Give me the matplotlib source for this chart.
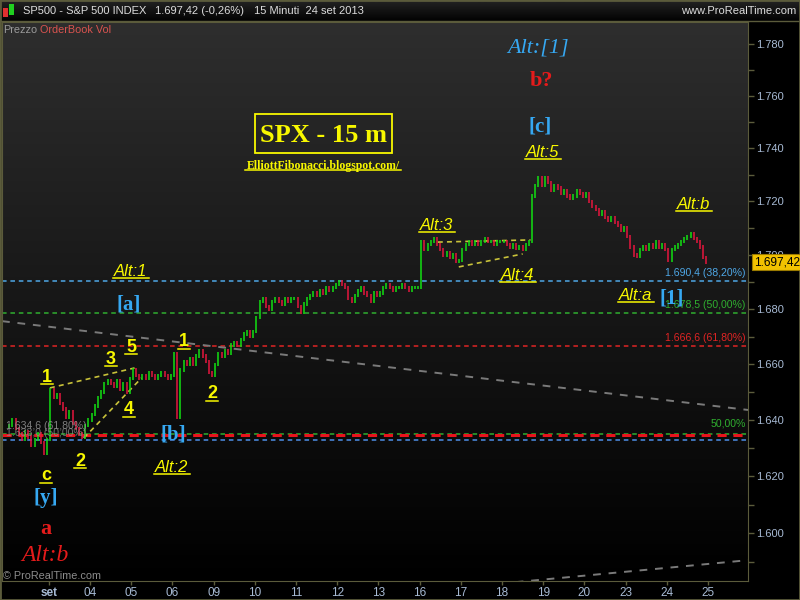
import numpy as np
import matplotlib
matplotlib.use("Agg")
import matplotlib.pyplot as plt
from matplotlib.colors import LinearSegmentedColormap
from matplotlib.lines import Line2D
from matplotlib.patches import Rectangle
from matplotlib.ticker import FixedLocator, FuncFormatter, NullFormatter
from matplotlib.transforms import blended_transform_factory

W, H = 800, 600
SANS = ["Liberation Sans", "DejaVu Sans"]
SERIF = ["Liberation Serif", "DejaVu Serif"]

# x axis: trading days counted from the 3 Sep open, one label per session
DAY_TICKS = list(range(17))
DAY_LABELS = ["set", "04", "05", "06", "09", "10", "11", "12", "13",
              "16", "17", "18", "19", "20", "23", "24", "25"]
X_RANGE = (-1.138, 16.97)
Y_RANGE = (1583.5, 1788.5)          # log price scale, as on the chart
Y_MAJOR = list(range(1600, 1781, 20))
Y_MINOR = list(range(1590, 1790, 20))

# SPX 15 min at half-hour steps (13 per session)
BARS_PER_DAY = 13
SESSION_DAYS = list(range(-1, 16))  # 30 ago .. 24 set
PREV_CLOSE = 1637.5
CLOSES = [
    [1638, 1640, 1637, 1635, 1633, 1636, 1634, 1631, 1633, 1635, 1632, 1628, 1633],    # 30 ago
    [1651, 1648, 1649, 1646, 1644, 1641, 1643, 1639, 1637, 1635, 1634, 1638, 1640],    # 03
    [1642, 1645, 1648, 1650, 1653, 1654, 1653, 1652, 1654, 1651, 1653, 1650, 1655],    # 04
    [1658, 1656, 1655, 1656, 1655, 1657, 1656, 1655, 1656, 1657, 1656, 1655, 1656],    # 05
    [1664, 1641, 1658, 1661, 1660, 1662, 1660, 1663, 1665, 1663, 1661, 1657, 1656],    # 06
    [1660, 1664, 1663, 1665, 1664, 1667, 1668, 1667, 1669, 1671, 1672, 1670, 1672],    # 09
    [1677, 1683, 1684, 1681, 1680, 1683, 1684, 1683, 1682, 1684, 1683, 1684, 1684],    # 10
    [1681, 1679, 1682, 1684, 1685, 1686, 1685, 1687, 1686, 1688, 1687, 1688, 1689],    # 11
    [1690, 1689, 1688, 1684, 1683, 1685, 1687, 1688, 1686, 1685, 1683, 1686, 1685],    # 12
    [1686, 1688, 1689, 1688, 1687, 1688, 1688, 1689, 1688, 1687, 1688, 1688, 1688],    # 13
    [1705, 1702, 1704, 1705, 1706, 1704, 1702, 1700, 1701, 1699, 1700, 1697.5, 1698],  # 16
    [1702, 1704, 1705, 1704, 1705, 1704, 1705, 1706, 1705, 1705, 1704, 1705, 1705],    # 17
    [1705, 1704, 1703, 1704, 1702.5, 1703, 1702, 1704, 1705, 1722, 1726, 1729, 1726],  # 18
    [1729, 1727, 1724, 1726, 1725, 1723, 1724, 1722, 1721, 1722, 1724, 1723, 1722],    # 19
    [1723, 1720, 1718, 1717, 1715, 1716, 1714, 1713, 1714, 1712, 1711, 1709, 1710],    # 20
    [1707, 1703, 1700, 1699.5, 1702, 1703, 1702, 1704, 1703, 1705, 1703, 1704, 1702],  # 23
    [1698, 1702, 1703, 1704, 1705, 1706, 1707, 1708, 1706, 1705, 1703, 1699, 1697.42], # 24
]
LAST_PRICE = 1697.42

# Fibonacci retracements
FIB_LEVELS = [1690.4, 1678.5, 1666.6]
FIB_TEXT = ["1.690,4 (38,20%)", "1.678,5 (50,00%)", "1.666,6 (61,80%)"]
FIB_COLORS = ["#4ea7e6", "#2fae2f", "#e02424"]
LOW_LEVELS = [1635.1, 1634.6, 1632.9]
LOW_COLORS = ["#2fae2f", "#e8141c", "#4e8fe8"]
LOW_WIDTHS = [1.1, 2.2, 1.1]

# hand-drawn lines (day, price)
TREND_X = [[-1.138, 16.97], [11.33, 16.97]]
TREND_Y = [[1675.7, 1643.6], [1583.1, 1590.7]]
WAVE_X = [[0.024, 2.08], [0.85, 2.25], [9.44, 11.69], [9.95, 11.5]]
WAVE_Y = [[1651.5, 1658.7], [1633.6, 1655.1], [1704.8, 1705.6], [1695.6, 1700.4]]

# wave labels: text, pixel centre, style
LABELS = [
    ("Alt:[1]", 538, 45, "bluealt"), ("b?", 541, 79, "red"), ("[c]", 540, 124, "blue"),
    ("Alt:5", 543, 151, "alt"), ("Alt:b", 694, 203, "alt"), ("Alt:3", 437, 224, "alt"),
    ("Alt:4", 518, 274, "alt"), ("Alt:1", 131, 270, "alt"), ("[a]", 129, 302, "blue"),
    ("5", 131, 345, "num"), ("3", 111, 357, "num"), ("1", 47, 375, "num"),
    ("4", 129, 408, "num"), ("2", 80, 459, "num"), ("1", 184, 340, "num"),
    ("2", 212, 392, "num"), ("[b]", 173, 432, "blue"), ("Alt:2", 172, 466, "alt"),
    ("c", 46, 474, "num"), ("[y]", 46, 496, "blue"), ("a", 46, 527, "red"),
    ("Alt:b", 45, 553, "redalt"), ("Alt:a", 636, 294, "alt"), ("[1]", 672, 296, "blue"),
]

YELLOW = "#f8f800"
BLUE = "#36a8f2"
RED = "#e41b1b"
UP, DOWN = "#12e012", "#e6163e"
OLIVE = "#5b5b3b"
AXTXT = "#a7bad4"
STYLES = {
    "alt": dict(color=YELLOW, fontsize=12, style="italic", family=SANS),
    "num": dict(color=YELLOW, fontsize=13, weight="bold", family=SANS),
    "blue": dict(color=BLUE, fontsize=15, weight="bold", family=SERIF),
    "red": dict(color=RED, fontsize=16, weight="bold", family=SERIF),
    "redalt": dict(color=RED, fontsize=17, style="italic", family=SERIF),
    "bluealt": dict(color=BLUE, fontsize=16, style="italic", family=SERIF),
}


def fx(x):
    return x / W


def fy(y):
    return 1 - y / H


fig = plt.figure(figsize=(W / 100, H / 100), dpi=100, facecolor="black")
rect = [fx(2), fy(581), fx(748) - fx(2), fy(22) - fy(581)]

# background gradients (plot area and header bar)
grad = np.linspace(0, 1, 256).reshape(-1, 1)
bg = fig.add_axes(rect, zorder=0)
bg.imshow(grad, cmap=LinearSegmentedColormap.from_list("bg", ["#2e2e2e", "#000000"]),
          aspect="auto", extent=[0, 1, 0, 1])
bg.axis("off")
hd = fig.add_axes([0, fy(21), 1, 21 / H], zorder=0)
hd.imshow(grad, cmap=LinearSegmentedColormap.from_list("hd", ["#242424", "#020202"]),
          aspect="auto", extent=[0, 1, 0, 1])
hd.axis("off")

ax = fig.add_axes(rect, zorder=1)
ax.set_facecolor("none")
ax.set_yscale("log")

# candles: each bar runs from the previous close to its close
xs, lo, hi, col = [], [], [], []
prev = PREV_CLOSE
for day, row in zip(SESSION_DAYS, CLOSES):
    for i, c in enumerate(row):
        xs.append(day + (i + 0.5) / BARS_PER_DAY)
        lo.append(min(prev, c) - 0.6)
        hi.append(max(prev, c) + 0.6)
        col.append(UP if c >= prev else DOWN)
        prev = c
ax.vlines(xs, lo, hi, colors=col, lw=1.1, zorder=3)

# retracement levels
bt = blended_transform_factory(ax.transAxes, ax.transData)
for lev, txt, c in zip(FIB_LEVELS, FIB_TEXT, FIB_COLORS):
    ax.axhline(lev, color=c, lw=1.1, dashes=(3, 2.5), zorder=2)
    ax.text(0.997, lev * 1.0007, txt, transform=bt, ha="right", va="bottom",
            color=c, fontsize=7.6, family=SANS, zorder=4)
for lev, c, lw in zip(LOW_LEVELS, LOW_COLORS, LOW_WIDTHS):
    ax.axhline(lev, color=c, lw=lw, dashes=(3, 2.5) if lw < 2 else (3, 2.2), zorder=2)
ax.text(0.997, LOW_LEVELS[0] * 1.0012, "50,00%", transform=bt, ha="right", va="bottom",
        color=LOW_COLORS[0], fontsize=7.6, family=SANS)
ax.text(0.005, 1638.0, "1.634,6 (61,80%)", transform=bt, ha="left", va="center",
        color="#8a8a8a", fontsize=7.6, family=SANS, alpha=0.9)
ax.text(0.005, 1635.4, "1.633,0 (50,00%)", transform=bt, ha="left", va="center",
        color="#8a8a8a", fontsize=7.6, family=SANS, alpha=0.8)

for tx, ty in zip(TREND_X, TREND_Y):
    ax.plot(tx, ty, color="#7a7a7a", lw=1.4, dashes=(4, 4), zorder=2)
for wx, wy in zip(WAVE_X, WAVE_Y):
    ax.plot(wx, wy, color="#c8c23a", lw=1.2, dashes=(3, 2.5), zorder=2)

ax.set_xlim(*X_RANGE)
ax.set_ylim(*Y_RANGE)

# axes styling
ax.yaxis.tick_right()
ax.yaxis.set_major_locator(FixedLocator(Y_MAJOR))
ax.yaxis.set_minor_locator(FixedLocator(Y_MINOR))
ax.yaxis.set_major_formatter(FuncFormatter(lambda v, _: f"{v / 1000:.3f}"))
ax.yaxis.set_minor_formatter(NullFormatter())
ax.tick_params(axis="y", which="both", direction="out", length=4, width=1,
               color=OLIVE, labelcolor=AXTXT, labelsize=8, pad=2)
ax.set_xticks(DAY_TICKS, DAY_LABELS)
ax.tick_params(axis="x", direction="out", length=3, width=1, color=OLIVE,
               labelcolor=AXTXT, labelsize=8.5, pad=1)
for t in ax.get_yticklabels() + ax.get_xticklabels():
    t.set_family(SANS)
ax.get_xticklabels()[0].set_weight("bold")
for s in ax.spines.values():
    s.set_color(OLIVE)

# last price tag
ax.annotate(f"{LAST_PRICE:,.2f}".replace(",", "X").replace(".", ",").replace("X", "."),
            xy=(1.0, LAST_PRICE), xycoords=("axes fraction", "data"),
            xytext=(4, 0), textcoords="offset points", ha="left", va="center",
            fontsize=8.5, family=SANS, color="black", annotation_clip=False, zorder=10,
            bbox=dict(boxstyle="square,pad=0.15", fc="#f2c200", ec="#9a7a00", lw=0.8))

# header bar
fig.add_artist(Rectangle((fx(3), fy(17)), fx(5), 9 / H, transform=fig.transFigure,
                         fc="#e03030", ec="none"))
fig.add_artist(Rectangle((fx(9), fy(15)), fx(5), 11 / H, transform=fig.transFigure,
                         fc="#20d020", ec="none"))
head_kw = dict(color="#dcdcdc", fontsize=8, family=SANS, va="center")
fig.text(fx(23), fy(11), "SP500 - S&P 500 INDEX", **head_kw)
fig.text(fx(155), fy(11), "1.697,42 (-0,26%)", **head_kw)
fig.text(fx(254), fy(11), "15 Minuti  24 set 2013", **head_kw)
fig.text(fx(796), fy(11), "www.ProRealTime.com", ha="right", **head_kw)
fig.add_artist(Line2D([0, 1], [fy(21), fy(21)], transform=fig.transFigure, color=OLIVE, lw=1))
fig.text(fx(3), fy(30), "Prezzo", color="#9a9a9a", fontsize=7.8, family=SANS, va="center")
fig.text(fx(40), fy(30), "OrderBook Vol", color="#d9534f", fontsize=7.8, family=SANS,
         va="center")
fig.text(fx(3), fy(576), "\u00a9 ProRealTime.com", color="#8c8c8c", fontsize=7.8,
         family=SANS, va="center")

# title box
fig.add_artist(Rectangle((fx(255), fy(153)), fx(137), 39 / H, transform=fig.transFigure,
                         fill=False, ec=YELLOW, lw=1.3))
fig.text(fx(323), fy(133), "SPX - 15 m", color=YELLOW, fontsize=19, weight="bold",
         family=SERIF, ha="center", va="center_baseline")
underlined = [fig.text(fx(323), fy(164), "ElliottFibonacci.blogspot.com/", color=YELLOW,
                       fontsize=8.5, weight="bold", family=SERIF, ha="center",
                       va="center_baseline")]

for s, x, y, key in LABELS:
    t = fig.text(fx(x), fy(y), s, ha="center", va="center_baseline", **STYLES[key])
    if key in ("alt", "num"):
        underlined.append(t)

fig.canvas.draw()
rend = fig.canvas.get_renderer()
for t in underlined:
    bb = t.get_window_extent(rend)
    yb = bb.y0 + 1.5
    fig.add_artist(Line2D([(bb.x0 - 1) / W, (bb.x1 + 1) / W], [yb / H, yb / H],
                          transform=fig.transFigure, color=YELLOW, lw=1.1))

fig.add_artist(Rectangle((0, 0), 1, 1, transform=fig.transFigure, fill=False,
                         ec=OLIVE, lw=2))
fig.savefig("out.png", dpi=100, facecolor="black")
